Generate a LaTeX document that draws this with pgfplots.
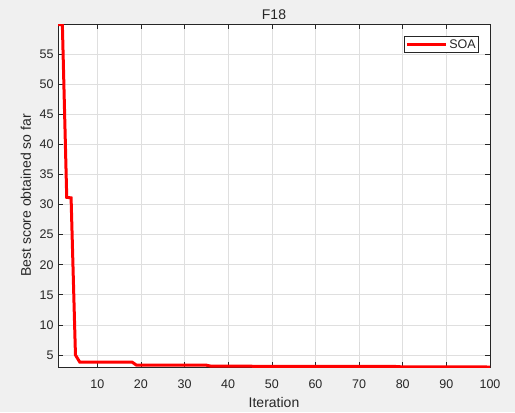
\documentclass[border=0pt]{standalone}
\usepackage{pgfplots}
\pgfplotsset{compat=1.18}
\usepackage{fontspec}
\setmainfont{Liberation Sans}
\usetikzlibrary{backgrounds}
\definecolor{bg}{RGB}{240,240,240}
\definecolor{txt}{RGB}{38,38,38}
\definecolor{grd}{RGB}{223,223,223}
\begin{document}
\begin{tikzpicture}
\begin{axis}[name=ax, scale only axis, width=432pt, height=343pt,
  xmin=1, xmax=100, ymin=3, ymax=60,
  xtick={10,20,...,100}, ytick={5,10,...,55},
  grid=major, grid style={grd, line width=0.6pt},
  tick align=inside, major tick length=5pt,
  axis line style={txt, line width=0.6pt}, tick style={txt, line width=0.6pt},
  ticklabel style={font=\fontsize{12.5}{14}\selectfont, text=txt},
  xticklabel style={yshift=-9pt},
  yticklabel style={xshift=-1pt},
  /pgf/number format/assume math mode=true,
  every axis title shift/.style={},
  title={F18},
  every axis title/.style={at={(axis description cs:0.5,1)}, anchor=base, yshift=5pt, font=\fontsize{14}{16}\selectfont, text=txt},
  xlabel={Iteration}, ylabel={Best score obtained so far},
  every axis x label/.style={at={(axis description cs:0.5,0)}, anchor=base, yshift=-40.3pt, font=\fontsize{14}{16}\selectfont, text=txt},
  every axis y label/.style={at={(axis description cs:0,0.5)}, xshift=-27pt, rotate=90, anchor=base, font=\fontsize{14}{16}\selectfont, text=txt},
  legend style={at={(0.9745,0.965)}, anchor=north east, draw=txt, line width=0.6pt, font=\fontsize{12.5}{14}\selectfont, text=txt, legend cell align=left, inner sep=1pt},
  legend image code/.code={\draw[#1] (0pt,0pt) -- (39pt,0pt);},
  axis background/.style={fill=white},
]
\addplot[red, line width=3pt] coordinates {
(1,59.9)(2,59.9)(3,31.2)(4,31.1)(5,5.0)(6,3.8)(18,3.8)(19,3.3)(35,3.3)(36,3.15)(45,3.15)(46,3.1)(78,3.1)(80,3.02)(100,3.0)
};
\addlegendentry{SOA}
\end{axis}
\begin{scope}[on background layer]
\fill[bg] ([shift={(-58pt,-45pt)}]ax.south west) rectangle ([shift={(25pt,24pt)}]ax.north east);
\end{scope}
\pgfresetboundingbox
\path ([shift={(-58pt,-45pt)}]ax.south west) rectangle ([shift={(25pt,24pt)}]ax.north east);
\end{tikzpicture}
\end{document}
